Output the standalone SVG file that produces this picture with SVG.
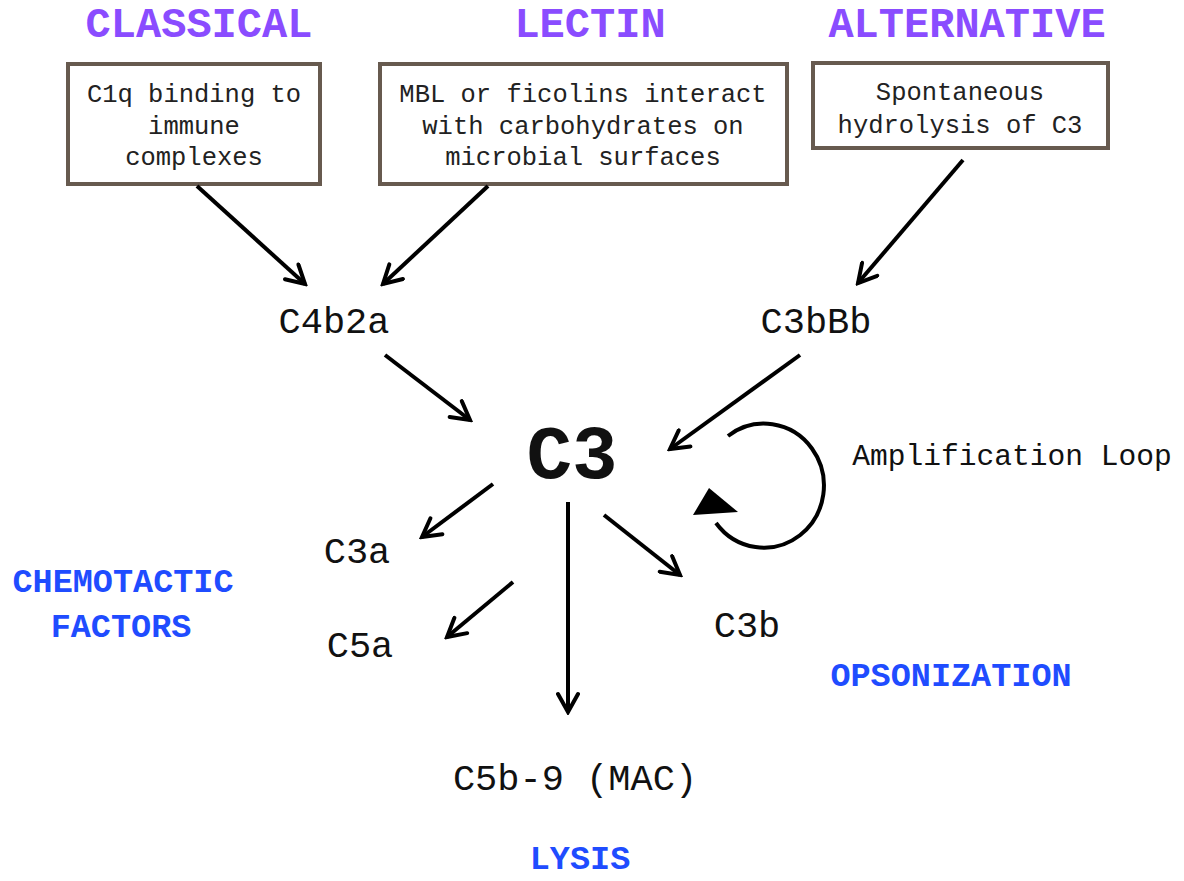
<svg xmlns="http://www.w3.org/2000/svg" width="1184" height="881" viewBox="0 0 1184 881">
<style>
.h{font-family:"Liberation Mono",monospace;font-weight:bold;font-size:42px;fill:#8a4cff;text-anchor:middle}
.b{font-family:"Liberation Mono",monospace;font-weight:bold;font-size:33.5px;fill:#1f4cff;text-anchor:middle}
.t{font-family:"Liberation Mono",monospace;font-size:25.5px;fill:#222;text-anchor:middle}
.n{font-family:"Liberation Mono",monospace;font-size:37px;fill:#111;text-anchor:middle}
.box{fill:#fff;stroke:#675a4f;stroke-width:4}
.c{stroke:#000;stroke-width:4;fill:none}
</style>
<defs>
<marker id="ar" viewBox="0 0 24 24" markerWidth="24" markerHeight="24" refX="21" refY="12" orient="auto" markerUnits="userSpaceOnUse">
<path d="M3,2 L21,12 L3,22" fill="none" stroke="#000" stroke-width="4" stroke-linecap="round"/>
</marker>
</defs>
<rect width="1184" height="881" fill="#fff"/>
<g id="classical">
<text class="h" x="199" y="37">CLASSICAL</text>
<rect class="box" x="68" y="64" width="252" height="120"/>
<text class="t" x="194" y="102">C1q binding to</text>
<text class="t" x="194" y="133.5">immune</text>
<text class="t" x="194" y="165">complexes</text>
</g>
<g id="lectin">
<text class="h" x="590" y="37">LECTIN</text>
<rect class="box" x="380" y="64" width="407" height="120"/>
<text class="t" x="583" y="102">MBL or ficolins interact</text>
<text class="t" x="583" y="133.5">with carbohydrates on</text>
<text class="t" x="583" y="165">microbial surfaces</text>
</g>
<g id="alternative">
<text class="h" x="967" y="37">ALTERNATIVE</text>
<rect class="box" x="813" y="63" width="295" height="85"/>
<text class="t" x="960" y="100">Spontaneous</text>
<text class="t" x="960" y="133">hydrolysis of C3</text>
</g>
<g id="c4b2a"><text class="n" x="334" y="333">C4b2a</text></g>
<g id="c3bbb"><text class="n" x="816" y="333">C3bBb</text></g>
<g id="c3"><text x="572" y="478" style="font-family:'Liberation Mono',monospace;font-weight:bold;font-size:76px;fill:#111;text-anchor:middle">C3</text></g>
<g id="amp"><text x="1012" y="465" style="font-family:'Liberation Mono',monospace;font-size:29.6px;fill:#111;text-anchor:middle">Amplification Loop</text></g>
<g id="c3a"><text class="n" x="357" y="563">C3a</text></g>
<g id="c5a"><text class="n" x="360" y="657">C5a</text></g>
<g id="c3b"><text class="n" x="747" y="637">C3b</text></g>
<g id="mac"><text class="n" x="575" y="790">C5b-9 (MAC)</text></g>
<g id="chemotactic">
<text class="b" x="123" y="592">CHEMOTACTIC</text>
<text class="b" x="121" y="637">FACTORS</text>
</g>
<g id="opsonization"><text class="b" x="951" y="686">OPSONIZATION</text></g>
<g id="lysis"><text class="b" x="580" y="869">LYSIS</text></g>
<g id="connectors">
<line class="c" x1="197" y1="186" x2="305" y2="284" marker-end="url(#ar)"/>
<line class="c" x1="488" y1="186" x2="383" y2="284" marker-end="url(#ar)"/>
<line class="c" x1="963" y1="160" x2="858" y2="283" marker-end="url(#ar)"/>
<line class="c" x1="385" y1="355" x2="470" y2="420" marker-end="url(#ar)"/>
<line class="c" x1="800" y1="355" x2="670" y2="449" marker-end="url(#ar)"/>
<line class="c" x1="493" y1="484" x2="422" y2="537" marker-end="url(#ar)"/>
<line class="c" x1="513" y1="582" x2="447" y2="637" marker-end="url(#ar)"/>
<line class="c" x1="568" y1="502" x2="568" y2="712" marker-end="url(#ar)"/>
<line class="c" x1="604" y1="515" x2="680" y2="575" marker-end="url(#ar)"/>
<path class="c" d="M728 436 A60 62 0 1 1 716 523"/>
<polygon points="709,488 693,515 738,512" fill="#000"/>
</g>
</svg>
